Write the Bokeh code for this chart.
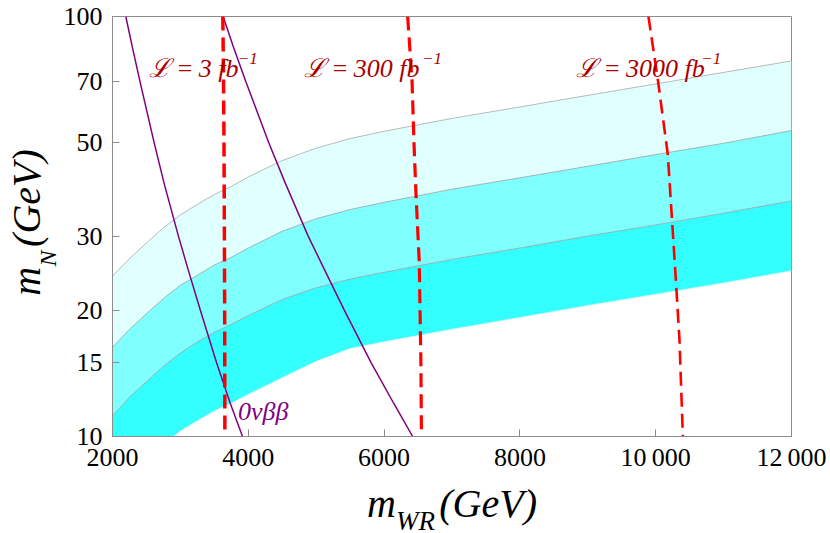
from bokeh.plotting import figure
from bokeh.models import FixedTicker, Label, Range1d
from bokeh.embed import file_html
from bokeh.resources import INLINE
import math

# ---------------- data ----------------
mwr = [2000, 2250, 2500, 2750, 3000, 3250, 3500, 3750, 4000, 4500, 5000,
       5500, 6000, 7000, 8000, 9000, 10000, 11000, 12000]
band_top = [24.1, 26.5, 28.9, 31.4, 33.7, 35.7, 37.7, 39.4, 41.5, 45.4, 48.6,
            51.2, 53.3, 57.2, 60.9, 64.9, 69.1, 73.6, 78.4]
band_mid = [16.3, 18.0, 19.6, 21.3, 22.9, 24.2, 25.6, 26.7, 28.1, 30.8, 33.0,
            34.7, 36.1, 38.8, 41.3, 44.0, 46.9, 49.9, 53.5]
band_low = [11.2, 12.4, 13.5, 14.7, 15.8, 16.8, 17.7, 18.5, 19.4, 21.2, 22.6,
            23.7, 24.6, 26.4, 28.1, 30.0, 31.9, 34.0, 36.4]
band_bot = [7.3, 8.1, 8.8, 9.6, 10.3, 10.9, 11.5, 12.0, 12.6, 13.8, 15.1,
            16.2, 16.8, 18.0, 19.2, 20.5, 21.8, 23.2, 24.8]

lum3_x = [3625, 3635, 3642, 3648, 3652, 3655]
lum3_y = [100, 70, 50, 30, 20, 10]
lum300_x = [6347, 6412, 6440, 6469, 6518, 6542, 6550]
lum300_y = [100, 70, 50, 38, 26, 15, 10]
lum3000_x = [9893, 10035, 10178, 10256, 10301, 10350, 10400]
lum3000_y = [100, 70, 47, 30, 23, 17, 10]

obb_y = [100, 85, 70, 50, 40, 30, 25, 20, 15, 12, 10]
obb1_x = [2196, 2289, 2405, 2614, 2761, 2971, 3113, 3293, 3532, 3734, 3915]
obb2_x = [3630, 3777, 3963, 4303, 4548, 4882, 5120, 5414, 5808, 6141, 6421]

x_ticks = [2000, 4000, 6000, 8000, 10000, 12000]
x_tick_labels = ["2000", "4000", "6000", "8000", "10\u2009000", "12\u2009000"]
y_ticks = [10, 15, 20, 30, 50, 70, 100]
y_tick_labels = ["10", "15", "20", "30", "50", "70", "100"]

lum_labels = ["\u2112\u2009=\u20093 fb", "\u2112\u2009=\u2009300 fb", "\u2112\u2009=\u20093000 fb"]
sup_label = "\u22121"
obb_label = "0\u03bd\u03b2\u03b2"
x_title = "m\u2003\u200a(GeV)"
x_title_sub = "WR"
y_title = "\u2009m\u2002(GeV)"
y_title_sub = "N"

# ---------------- figure ----------------
SERIF = "Liberation Serif"
GRAY = "#8c8c8c"

p = figure(width=830, height=533,
           x_range=Range1d(2000, 12000), y_range=Range1d(10, 100),
           y_axis_type="log", output_backend="svg", toolbar_location=None,
           min_border_left=112, min_border_right=39, min_border_top=16, min_border_bottom=97)
p.xgrid.visible = False
p.ygrid.visible = False
p.background_fill_color = "white"
p.border_fill_color = "white"
p.outline_line_color = GRAY
p.outline_line_width = 1

# bands
p.varea(x=mwr, y1=band_mid, y2=band_top, fill_color="#E0FFFF")
p.varea(x=mwr, y1=band_low, y2=band_mid, fill_color="#80FFFF")
p.varea(x=mwr, y1=band_bot, y2=band_low, fill_color="#33FFFF")
for ys, col in [(band_top, "#A8A8A8"), (band_mid, "#A0A0A0"), (band_low, "#A0A0A0"), (band_bot, "#D8F4F4")]:
    p.line(x=mwr, y=ys, line_color=col, line_width=0.8)

# 0vbb lines
p.line(x=obb1_x, y=obb_y, line_color="#800080", line_width=1.5)
p.line(x=obb2_x, y=obb_y, line_color="#800080", line_width=1.5)

# luminosity reach lines
p.line(x=lum3_x, y=lum3_y, line_color="#FF0000", line_width=3.5, line_dash="14 7")
p.line(x=lum300_x, y=lum300_y, line_color="#FF0000", line_width=3.2, line_dash="14 7")
p.line(x=lum3000_x, y=lum3000_y, line_color="#FF0000", line_width=2.6, line_dash="14 7")

# axes
for ax in (p.xaxis[0], p.yaxis[0]):
    ax.axis_line_color = GRAY
    ax.major_tick_line_color = GRAY
    ax.major_tick_in = 7
    ax.major_tick_out = 0
    ax.minor_tick_line_color = None
    ax.major_label_text_font = SERIF
    ax.major_label_text_font_size = "26px"
    ax.major_label_text_color = "black"
    ax.axis_label_text_font = SERIF
    ax.axis_label_text_font_size = "40px"
    ax.axis_label_text_font_style = "italic"
    ax.axis_label_text_color = "black"

p.xaxis.ticker = FixedTicker(ticks=x_ticks)
p.xaxis.major_label_overrides = {t: s for t, s in zip(x_ticks, x_tick_labels)}
p.xaxis.major_label_standoff = 6
p.xaxis.axis_label = x_title
p.xaxis.axis_label_standoff = 6
p.yaxis.ticker = FixedTicker(ticks=y_ticks)
p.yaxis.major_label_overrides = {t: s for t, s in zip(y_ticks, y_tick_labels)}
p.yaxis.major_label_standoff = 10
p.yaxis.axis_label = y_title
p.yaxis.axis_label_standoff = 12


def lab(x, y, text, size, color="black", angle=0.0, place=None):
    l = Label(x=x, y=y, text=text, text_font=SERIF, text_font_size=size,
              text_font_style="italic", text_color=color, angle=angle,
              text_align="left", text_baseline="alphabetic")
    if place is None:
        p.add_layout(l)
    else:
        p.add_layout(l, place)


# luminosity labels
RED = "#AA0000"
lab(2536, 75.1, lum_labels[0], "26px", RED)
lab(3846, 79.3, sup_label, "17px", RED)
lab(4819, 75.1, lum_labels[1], "26px", RED)
lab(6558, 79.3, sup_label, "17px", RED)
lab(8827, 75.1, lum_labels[2], "26px", RED)
lab(10670, 79.3, sup_label, "17px", RED)

# 0vbb label
lab(3847, 11.5, obb_label, "26px", "#800080")

# subscripts of the axis titles (in side panels so they are not clipped)
lab(6175, 6.30, x_title_sub, "27px", place="right")
lab(1043, 25.4, y_title_sub, "24px", angle=math.pi / 2, place="above")

open("out.html", "w").write(file_html(p, INLINE))
